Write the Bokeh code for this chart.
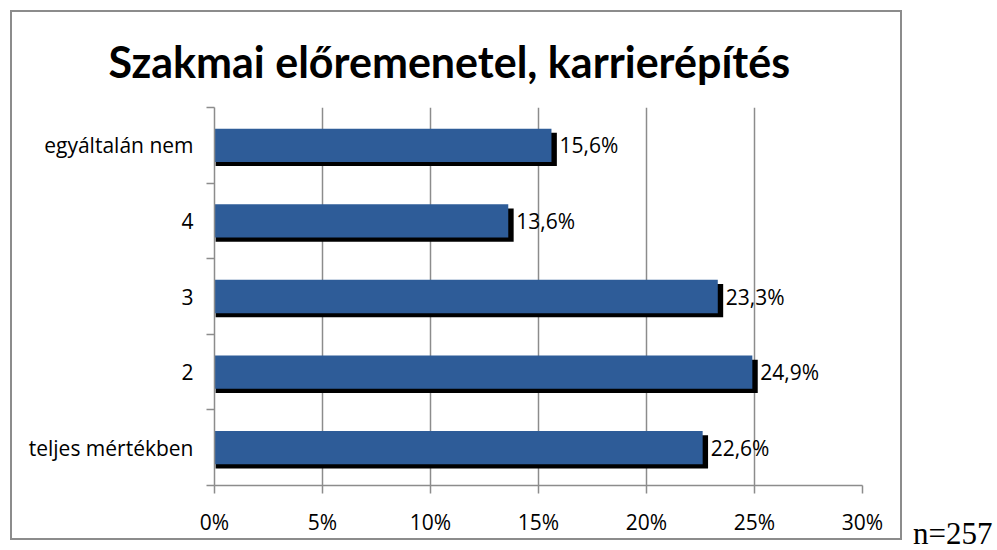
from bokeh.plotting import figure
from bokeh.models import FixedTicker, LabelSet, ColumnDataSource, Div
from bokeh.layouts import row
from bokeh.core.properties import value
from bokeh.transform import dodge
from bokeh.embed import file_html
from bokeh.resources import INLINE

title_text = "Szakmai előremenetel, karrierépítés"
categories = ["teljes mértékben", "2", "3", "4", "egyáltalán nem"]
values = [22.6, 24.9, 23.3, 13.6, 15.6]
x_ticks = [0, 5, 10, 15, 20, 25, 30]
x_tick_labels = ["0%", "5%", "10%", "15%", "20%", "25%", "30%"]
note_text = "n=257"

FONT = "Open Sans"
TITLE_FONT = "Lato"
BAR_COLOR = "#2E5C98"
GRID_COLOR = "#8c8c8c"

ys = list(range(1, len(categories) + 1))
src = ColumnDataSource(dict(
    y=ys,
    v=values,
    v_shadow=[v + 0.25 for v in values],
    lab=[f"{v:.1f}".replace(".", ",") + "%" for v in values],
))

p = figure(width=892, height=530, x_range=(0, 30), y_range=(0.5, len(categories) + 0.5),
           output_backend="svg", toolbar_location=None,
           min_border_left=202, min_border_right=42, min_border_top=95, min_border_bottom=57,
           styles={"border": "2px solid #8c8c8c"})
p.margin = (10, 0, 0, 10)
p.outline_line_color = None
p.background_fill_color = "white"
p.border_fill_color = "white"

p.title.text = title_text
p.title.align = "left"
p.title.offset = -106
p.title.standoff = 41
p.title.vertical_align = "bottom"
p.title.text_font = TITLE_FONT
p.title.text_font_style = "bold"
p.title.text_font_size = "43px"
p.title.text_color = "black"

# shadow then bar
p.hbar(y=dodge("y", -0.055, range=p.y_range), left=0.05, right="v_shadow", height=0.44,
       source=src, fill_color="black", line_color=None)
p.hbar(y="y", left=0, right="v", height=0.44, source=src,
       fill_color=BAR_COLOR, line_color=None)

labels = LabelSet(x="v", y="y", text="lab", source=src, x_offset=8, y_offset=0,
                  text_baseline="middle", text_align="left", text_font=value(FONT),
                  text_font_size="21px", text_color="black")
p.add_layout(labels)

# x axis
p.xaxis.ticker = FixedTicker(ticks=x_ticks, minor_ticks=[])
p.xaxis.major_label_overrides = {t: l for t, l in zip(x_ticks, x_tick_labels)}
p.xaxis.major_tick_out = 8
p.xaxis.major_tick_in = 0
p.xaxis.minor_tick_line_color = None
p.xaxis.major_label_standoff = 14
p.xaxis.axis_line_color = GRID_COLOR
p.xaxis.major_tick_line_color = GRID_COLOR
p.xaxis.axis_line_width = 1.5
p.xaxis.major_tick_line_width = 1.5
p.xaxis.major_label_text_font = FONT
p.xaxis.major_label_text_font_size = "21px"
p.xaxis.major_label_text_color = "black"

# y axis: labels at centres, ticks at boundaries
p.yaxis.ticker = FixedTicker(ticks=ys, minor_ticks=[y - 0.5 for y in ys] + [ys[-1] + 0.5])
p.yaxis.major_label_overrides = {y: c for y, c in zip(ys, categories)}
p.yaxis.major_tick_line_color = None
p.yaxis.major_tick_out = 0
p.yaxis.major_tick_in = 0
p.yaxis.minor_tick_out = 8
p.yaxis.minor_tick_in = 0
p.yaxis.minor_tick_line_color = GRID_COLOR
p.yaxis.minor_tick_line_width = 1.5
p.yaxis.axis_line_color = GRID_COLOR
p.yaxis.axis_line_width = 1.5
p.yaxis.major_label_standoff = 13
p.yaxis.major_label_text_font = FONT
p.yaxis.major_label_text_font_size = "21px"
p.yaxis.major_label_text_color = "black"

p.xgrid.ticker = FixedTicker(ticks=x_ticks)
p.xgrid.grid_line_color = GRID_COLOR
p.xgrid.grid_line_width = 1.5
p.ygrid.grid_line_color = None

note = Div(text=note_text, width=80, height=30, margin=(518, 0, 0, 11),
           styles={"font-family": "Liberation Serif", "font-size": "31px",
                   "line-height": "1.0", "overflow": "visible",
                   "white-space": "nowrap", "color": "black"})

layout = row(p, note)
open("out.html", "w").write(file_html(layout, INLINE))
